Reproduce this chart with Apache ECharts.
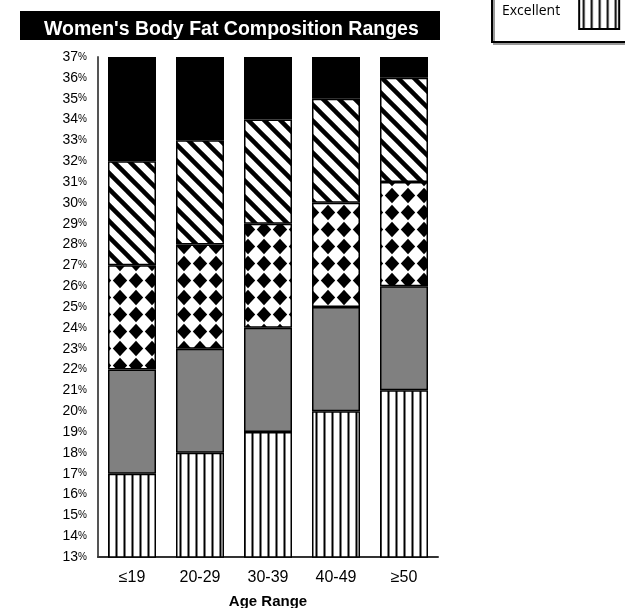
<!DOCTYPE html>
<html>
<head>
<meta charset="utf-8">
<script src="https://cdn.jsdelivr.net/npm/echarts@6/dist/echarts.min.js"></script>
<style>html,body{margin:0;padding:0;background:#fff}#c{width:625px;height:608px}</style>
</head>
<body>
<div id="c"></div>
<script>
// ---- data ----
var categories = ['≤19', '20-29', '30-39', '40-49', '≥50'];
var excellentTop = [17, 18, 19, 20, 21];   // top of "Excellent" band (%)
var goodBand = [5, 5, 5, 5, 5];             // band heights (%)
var averageBand = [5, 5, 5, 5, 5];
var fairBand = [5, 5, 5, 5, 5];
var poorBand = [5, 4, 3, 2, 1];
var yMin = 13, yMax = 37, yStep = 1;

// ---- patterns ----
function makeCanvas(w, h, draw) {
  var c = document.createElement('canvas');
  c.width = w; c.height = h;
  var ctx = c.getContext('2d');
  ctx.fillStyle = '#fff'; ctx.fillRect(0, 0, w, h);
  ctx.fillStyle = '#000'; ctx.strokeStyle = '#000';
  draw(ctx, w, h);
  return c;
}
var vStripe = makeCanvas(8, 8, function (ctx) { ctx.fillRect(3.5, 0, 2, 8); });
var diag = makeCanvas(16, 16, function (ctx) {
  ctx.lineWidth = 4.5;
  [[-16, 0], [0, 0], [16, 0]].forEach(function (o) {
    ctx.beginPath(); ctx.moveTo(o[0] - 2, -2); ctx.lineTo(o[0] + 18, 18); ctx.stroke();
  });
});
var diamond = makeCanvas(16, 17, function (ctx) {
  ctx.beginPath();
  ctx.moveTo(8, 0.8); ctx.lineTo(15.2, 8.5); ctx.lineTo(8, 16.2); ctx.lineTo(0.8, 8.5);
  ctx.closePath(); ctx.fill();
});
function pat(c) { return { image: c, repeat: 'repeat' }; }

var border = { borderColor: '#000', borderWidth: 1.5 };
function mk(name, data, color) {
  return {
    name: name, type: 'bar', stack: 'fat', data: data, barWidth: 48,
    itemStyle: Object.assign({ color: color }, border),
    emphasis: { disabled: true }
  };
}

var chart = echarts.init(document.getElementById('c'), null, { renderer: 'canvas' });
chart.setOption({
  animation: false,
  backgroundColor: '#fff',
  graphic: [{
    type: 'rect', left: 20, top: 11, z: 0,
    shape: { width: 420, height: 29 },
    style: { fill: '#000' }
  }],
  title: {
    text: "Women's Body Fat Composition Ranges",
    left: 44, top: 20, z: 10,
    padding: 0,
    textStyle: { color: '#fff', fontSize: 19.5, fontWeight: 'bold', fontFamily: 'Liberation Sans, Arial, sans-serif' }
  },
  legend: {
    data: ['Excellent'],
    left: 492, top: -18,
    orient: 'vertical',
    align: 'right',
    icon: 'rect',
    padding: [10, 20, 12, 10],
    borderColor: '#000', borderWidth: 2,
    shadowColor: '#999', shadowOffsetX: 2, shadowOffsetY: 2, shadowBlur: 0,
    backgroundColor: '#fff',
    itemWidth: 40, itemHeight: 36,
    itemStyle: { borderColor: '#000', borderWidth: 2 },
    textStyle: { fontSize: 14, color: '#000', fontFamily: 'Open Sans, sans-serif', padding: [0, 14, 0, 0] }
  },
  grid: { left: 98, right: 187, top: 57, bottom: 51, containLabel: false, outerBoundsMode: 'none' },
  xAxis: {
    type: 'category', data: categories,
    axisLine: { lineStyle: { color: '#333', width: 2 } },
    axisTick: { show: false },
    axisLabel: { color: '#000', fontSize: 16, margin: 13, fontFamily: 'Liberation Sans, Arial, sans-serif' },
    name: 'Age Range', nameLocation: 'middle', nameGap: 37,
    nameTextStyle: { color: '#000', fontSize: 15, fontWeight: 'bold', fontFamily: 'Liberation Sans, Arial, sans-serif' }
  },
  yAxis: {
    type: 'value', min: yMin, max: yMax, interval: yStep,
    axisLine: { show: true, lineStyle: { color: '#555', width: 2 } },
    axisTick: { show: false },
    splitLine: { show: false },
    axisLabel: {
      margin: 11,
      formatter: function (v) { return '{n|' + v + '}{p|%}'; },
      rich: {
        n: { fontSize: 14, color: '#000', fontFamily: 'Liberation Sans, Arial, sans-serif' },
        p: { fontSize: 10, color: '#000', fontFamily: 'Liberation Sans, Arial, sans-serif' }
      }
    }
  },
  series: [
    mk('Excellent', excellentTop, pat(vStripe)),
    mk('Good', goodBand, '#808080'),
    mk('Average', averageBand, pat(diamond)),
    mk('Fair', fairBand, pat(diag)),
    mk('Poor', poorBand, '#000')
  ]
});
</script>
</body>
</html>
